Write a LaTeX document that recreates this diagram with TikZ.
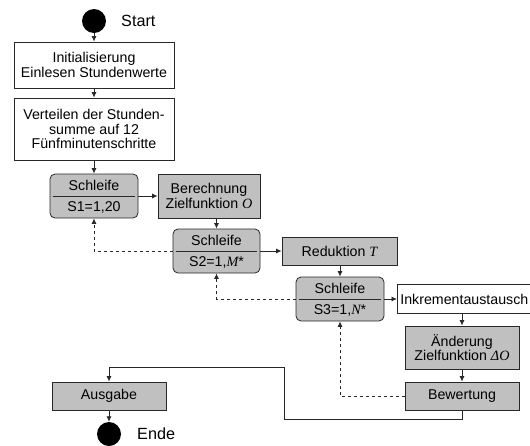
\documentclass[tikz,border=0pt]{standalone}
\usepackage{fontspec}
\setmainfont{Liberation Sans}
\newfontfamily\tms{Liberation Serif}
\usetikzlibrary{arrows.meta}
\definecolor{boxgray}{RGB}{192,192,192}
\definecolor{linegray}{RGB}{40,40,40}
\newcommand{\mi}[1]{{\tms\itshape #1}}
\begin{document}
\begin{tikzpicture}[x=1pt,y=-1pt,
  every node/.style={font=\fontsize{14.2}{14.4}\selectfont, inner sep=0pt, align=center},
  plainbox/.style={draw=linegray, line width=0.8pt, fill=white},
  graybox/.style={draw=linegray, line width=0.8pt, fill=boxgray},
  loopbox/.style={draw=linegray, line width=0.8pt, fill=boxgray, rounded corners=5pt, minimum width=88pt, minimum height=44pt},
  term/.style={circle, fill=black, minimum size=24pt},
  lbl/.style={font=\fontsize{16.2}{17}\selectfont, anchor=west},
  arr/.style={draw=linegray, line width=0.8pt, -{Latex[length=5.5pt,width=5pt]}},
  dasharr/.style={draw=linegray, line width=0.8pt, dash pattern=on 3pt off 3pt, -{Latex[length=5.5pt,width=5pt]}},
  ln/.style={draw=linegray, line width=0.8pt}
]
\useasboundingbox (0,0) rectangle (530,445);

\node[term] (start) at (94,21) {};
\node[lbl] (startl) at (121,21) {Start};

\node[plainbox, minimum width=160pt, minimum height=46pt] (init) at (94,65) {Initialisierung\\Einlesen Stundenwerte};
\node[plainbox, minimum width=160pt, minimum height=62pt] (vert) at (94,129) {Verteilen der Stunden-\\summe auf 12\\Fünfminutenschritte};

\node[loopbox] (s1) at (94,196) {};
\node (s1a) at ([yshift=11pt]s1.center) {Schleife};
\node (s1b) at ([yshift=-11pt]s1.center) {S1=1,20};
\draw[ln] ([xshift=3pt]s1.west) -- ([xshift=-3pt]s1.east);

\node[graybox, minimum width=102pt, minimum height=44pt] (ber) at (209,196) {Berechnung\\Zielfunktion \mi{O}};

\node[loopbox, minimum width=87pt] (s2) at (216.5,251) {};
\node (s2a) at ([yshift=11pt]s2.center) {Schleife};
\node (s2b) at ([yshift=-11pt]s2.center) {S2=1,\mi{M}*};
\draw[ln] ([xshift=3pt]s2.west) -- ([xshift=-3pt]s2.east);

\node[graybox, minimum width=115pt, minimum height=28pt] (red) at (339.5,251) {Reduktion \mi{T}};

\node[loopbox] (s3) at (340,299) {};
\node (s3a) at ([yshift=11pt]s3.center) {Schleife};
\node (s3b) at ([yshift=-11pt]s3.center) {S3=1,\mi{N}*};
\draw[ln] ([xshift=3pt]s3.west) -- ([xshift=-3pt]s3.east);

\node[plainbox, minimum width=142pt, minimum height=29pt, anchor=west, text width=136pt, align=left] (ink) at (397,299) {Inkrementaustausch};

\node[graybox, minimum width=114pt, minimum height=43pt] (aend) at (462,347.5) {Änderung\\Zielfunktion \mi{ΔO}};
\node[graybox, minimum width=114pt, minimum height=28pt] (bew) at (462,396) {Bewertung};

\node[graybox, minimum width=114pt, minimum height=28pt] (aus) at (109,396) {Ausgabe};
\node[term] (ende) at (109,434) {};
\node[lbl] (endel) at (137,434) {Ende};

% connectors
\draw[arr] (start) -- (init);
\draw[arr] (init) -- (vert);
\draw[arr] (vert) -- (s1);
\draw[arr] (s1) -- (ber);
\draw[arr] (s2.north |- ber.south) -- (s2.north);
\draw[dasharr] (s2.west) -| (s1.south);
\draw[arr] (s2) -- (red);
\draw[arr] (s3.north |- red.south) -- (s3.north);
\draw[dasharr] (s3.west) -| (s2.south);
\draw[arr] (s3) -- (ink);
\draw[arr] (aend.north |- ink.south) -- (aend.north);
\draw[arr] (aend) -- (bew);
\draw[dasharr] (bew.west) -| (s3.south);
\coordinate (r1) at (462,419);
\coordinate (r2) at (284,419);
\coordinate (r3) at (284,367);
\coordinate (r4) at (109,367);
\draw[arr] (bew.south) -- (r1) -- (r2) -- (r3) -- (r4) -- (aus.north);
\draw[arr] (aus) -- (ende);
\end{tikzpicture}
\end{document}
